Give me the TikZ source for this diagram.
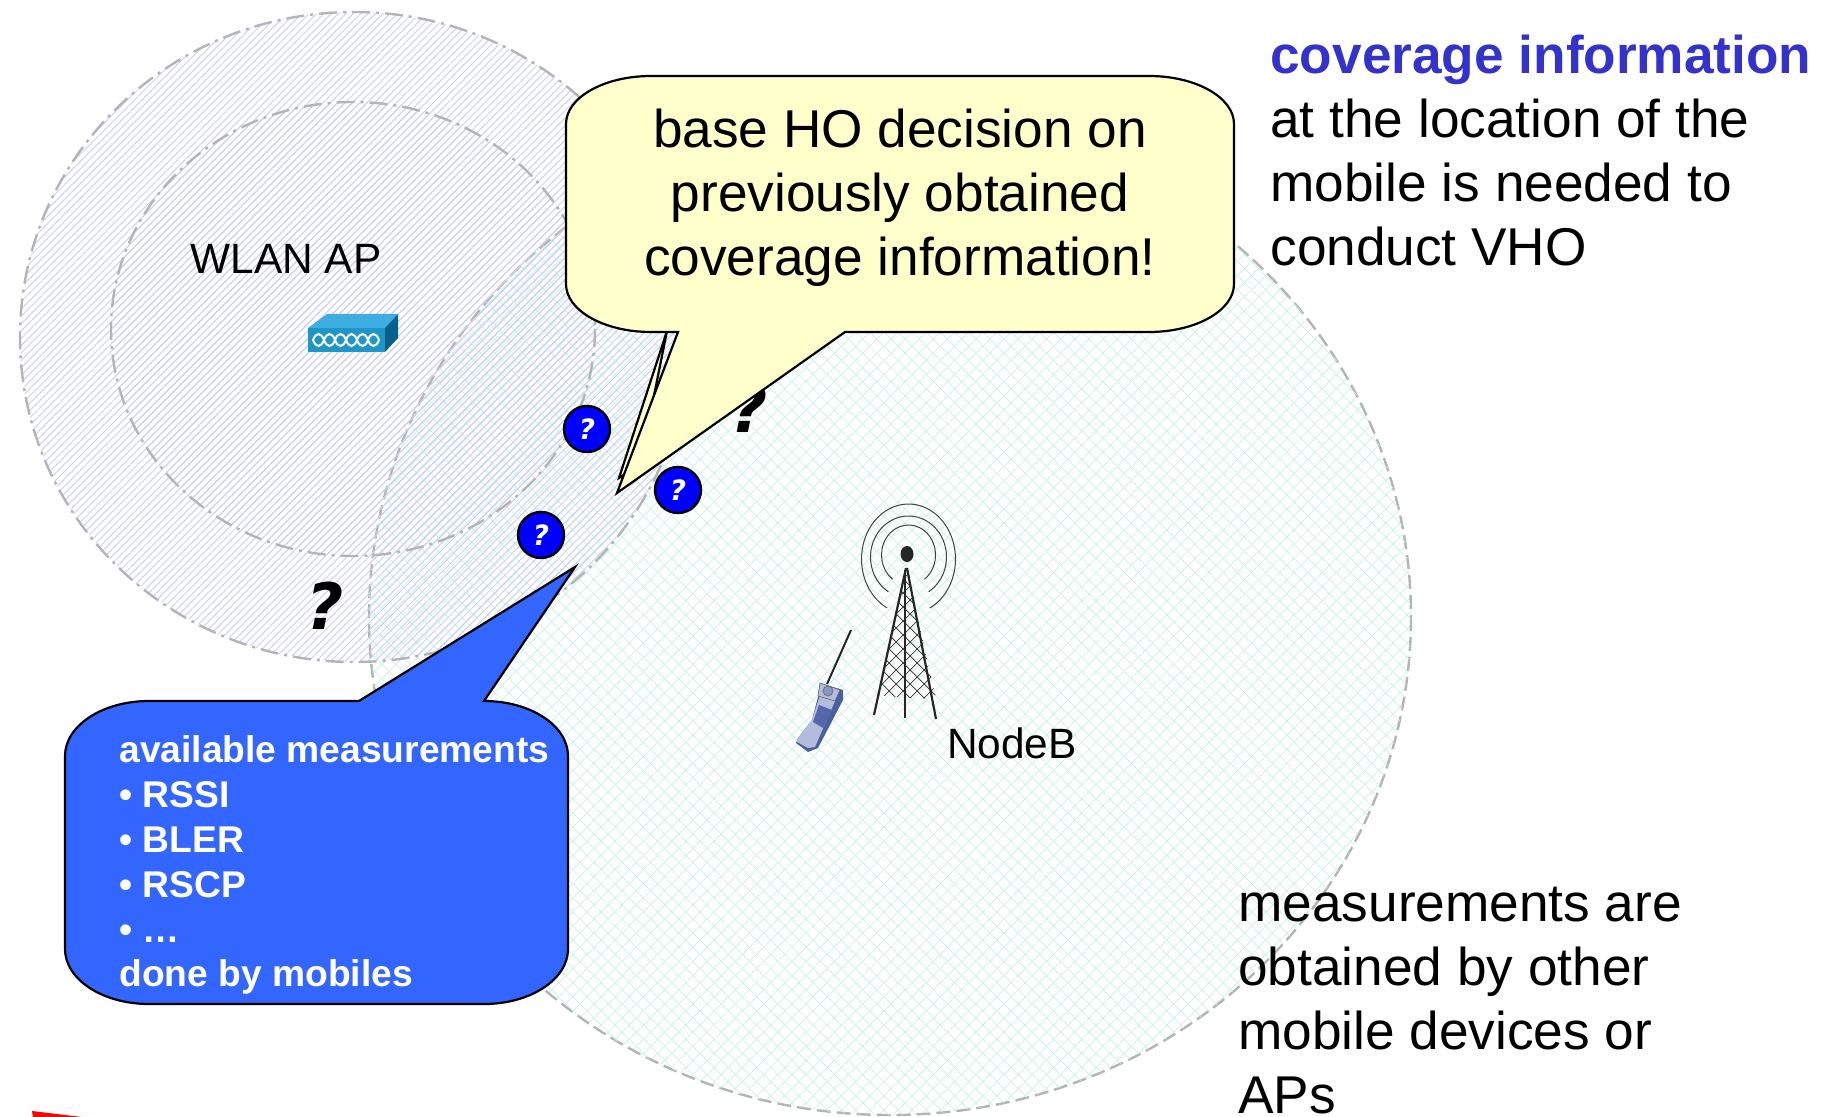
\documentclass[tikz,border=0pt]{standalone}
\usepackage{fontspec}
\setmainfont{Liberation Sans}
\newfontfamily\heavyfont{DejaVu Sans}
\usetikzlibrary{patterns.meta}
\definecolor{wlanhatch}{HTML}{CFCFF3}
\definecolor{umtshatch}{HTML}{C6F1E6}
\definecolor{ringgray}{HTML}{B4B4B4}
\definecolor{bubbleyellow}{HTML}{FFFFCC}
\definecolor{bubbleblue}{HTML}{3366FF}
\definecolor{headblue}{HTML}{3333CC}
\definecolor{boxtop}{HTML}{3EAEE2}
\definecolor{boxfront}{HTML}{1E96C8}
\definecolor{boxside}{HTML}{05608A}
\definecolor{phonedark}{HTML}{4860A0}
\definecolor{phonelight}{HTML}{B4BCDE}
\definecolor{phonescreen}{HTML}{5268AA}
\tikzset{
    wlancell/.style={draw=ringgray,line width=1.2pt,dash pattern=on 9pt off 3pt on 1.5pt off 3pt,
        pattern={Lines[angle=45,distance=2.6pt,line width=0.5pt]},pattern color=wlanhatch},
    umtscell/.style={draw=ringgray,line width=1.2pt,dash pattern=on 7pt off 3pt,
        pattern={Lines[angle=45,distance=5pt,line width=0.35pt]},pattern color=umtshatch},
    bigtext/.style={font=\fontsize{26.6}{32}\selectfont,align=left,anchor=north west,inner sep=0pt},
    probe/.style={circle,draw=black,line width=1.2pt,fill=blue,text=white,minimum size=23pt,inner sep=0pt,
        font=\heavyfont\fontsize{14}{14}\selectfont\bfseries\itshape},
    bigq/.style={font=\heavyfont\fontsize{32}{32}\selectfont\bfseries\itshape,inner sep=0pt},
    label/.style={font=\fontsize{21.2}{24}\selectfont,inner sep=0pt}
}
\begin{document}
\begin{tikzpicture}[x=0.5pt,y=-0.5pt]
\useasboundingbox (0,0) rectangle (1830,1117);

\path[umtscell] (890,617) ellipse (521 and 498);
\path[umtscell,draw=none,pattern={Lines[angle=-45,distance=5pt,line width=0.35pt]}] (890,617) ellipse (521 and 498);
\path[wlancell] (354,337) ellipse (334 and 325);
\path[wlancell] (353,329) ellipse (242 and 227);

\node[label] (wlan) at (286,259) {WLAN AP};
\node[label] (nodeb) at (1012,743) {NodeB};

% access point
\fill[boxtop] (308,328) -- (327,314) -- (398,314) -- (385,328) -- cycle;
\fill[boxfront] (308,328) rectangle (385,352);
\fill[boxside] (385,328) -- (398,314) -- (398,338) -- (385,352) -- cycle;
\foreach \x in {0,...,5}
    \draw[white,line width=1pt] (313+11*\x,340) .. controls (316+11*\x,332) and (321+11*\x,332) .. (324+11*\x,340)
        .. controls (321+11*\x,348) and (316+11*\x,348) .. (313+11*\x,340);

% tower
\fill[black!85] (907,554) ellipse (6.5 and 8);
\foreach \rx/\ry/\cy/\off in {27/30/555/36,38/41/557/32,47/55/559/27}
    \draw[black!75,line width=0.5pt] ({908.5+\rx*cos(90+\off)},{\cy+\ry*sin(90+\off)})
        arc[start angle=90+\off,end angle=450-\off,x radius=\rx,y radius=\ry];
\begin{scope}
    \clip (907,570) -- (878,695) -- (892,697) -- (936,699) -- cycle;
    \foreach \i in {-10,...,12} {
        \draw[black!80,line width=0.35pt] (870,560+14*\i) -- (950,640+14*\i);
        \draw[black!80,line width=0.35pt] (950,560+14*\i) -- (870,640+14*\i);
    }
\end{scope}
\draw[black!85,line width=1.1pt] (906,568) -- (874,715);
\draw[black!85,line width=1.1pt] (905,570) -- (905,718);
\draw[black!85,line width=1.1pt] (907,568) -- (936,719);

% phone
\draw[black!85,line width=1pt] (851,630) -- (827,684);
\fill[phonedark] (820,683) -- (843,690) -- (843,700) -- (818,748) -- (808,752) -- (796,743) -- (798,738) -- (812,720) -- (818,697) -- cycle;
\fill[phonelight] (820,695) -- (835,701) -- (815,747) -- (808,748) -- (797,742) -- (798,738) -- (812,720) -- cycle;
\draw[black!60,line width=0.3pt,fill=phonelight] (820,683) -- (840,690) -- (835,701) -- (818,696) -- cycle;
\fill[phonescreen] (819,705) -- (832,710) -- (823,728) -- (813,722) -- cycle;
\draw[black!60,line width=0.3pt,fill=phonescreen!70!white] (828,691) circle (5);

\node[bigq] (q1) at (325,606) {?};
\node[bigq] (q2) at (749,409) {?};

\node[probe] (p1) at (587,429) {?};
\node[probe] (p2) at (678,490) {?};
\node[probe] (p3) at (541,535) {?};

% yellow callout
\draw[black,line width=1.1pt,fill=bubbleyellow,line join=miter] (667,331) -- (619,478) -- (640,465) -- cycle;
\draw[black,line width=1.1pt,fill=bubbleyellow,line join=miter]
    (651,76) -- (1149,76) arc[start angle=-90,end angle=0,x radius=85,y radius=48]
    -- (1234,284) arc[start angle=0,end angle=90,x radius=85,y radius=48]
    -- (845,332) -- (617,493) -- (678,332)
    -- (651,332) arc[start angle=90,end angle=180,x radius=85,y radius=48]
    -- (566,124) arc[start angle=180,end angle=270,x radius=85,y radius=48] -- cycle;
\node[font=\fontsize{26.6}{32}\selectfont,align=center,inner sep=0pt] (advice) at (900,198)
    {base HO decision on\\previously obtained\\coverage information!};

% blue callout
\draw[black,line width=1.1pt,fill=bubbleblue,line join=miter]
    (149,701) -- (359,701) -- (575,567) -- (484,701)
    arc[start angle=-90,end angle=0,x radius=84,y radius=55]
    -- (568,949) arc[start angle=0,end angle=90,x radius=84,y radius=55]
    -- (149,1004) arc[start angle=90,end angle=180,x radius=84,y radius=55]
    -- (65,756) arc[start angle=180,end angle=270,x radius=84,y radius=55] -- cycle;
\node[font=\fontsize{18.6}{22.4}\selectfont\bfseries,text=white,align=left,anchor=north west,inner sep=0pt] (measured) at (119,735.5)
    {available measurements\\• RSSI\\• BLER\\• RSCP\\• …\\done by mobiles};

\node[bigtext] (coverage) at (1270,35)
    {\textcolor{headblue}{\textbf{coverage information}}\\at the location of the\\mobile is needed to\\conduct VHO};
\node[bigtext] (obtained) at (1238,887)
    {measurements are\\obtained by other\\mobile devices or\\APs};

\fill[red] (32,1111) -- (82,1117) -- (33,1117) -- cycle;
\end{tikzpicture}
\end{document}
